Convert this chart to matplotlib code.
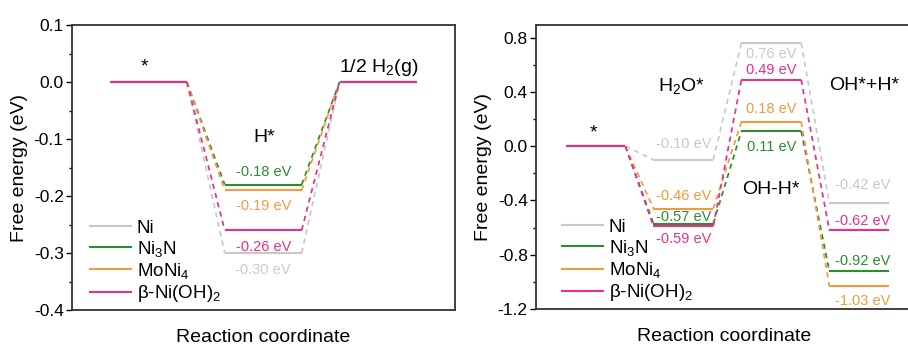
import matplotlib
matplotlib.use("Agg")
import matplotlib.pyplot as plt
from matplotlib.lines import Line2D

plt.rcParams.update({
    "font.family": ["Liberation Sans", "DejaVu Sans"],
    "mathtext.fontset": "custom",
    "mathtext.rm": "Liberation Sans",
    "mathtext.it": "Liberation Sans:italic",
    "mathtext.bf": "Liberation Sans:bold",
    "axes.unicode_minus": False,
})

# ---- data -------------------------------------------------------------
catalysts = ["Ni", "Ni$_3$N", "MoNi$_4$", "β-Ni(OH)$_2$"]
colors = ["#c8c8c8", "#2e8b2e", "#f29a3c", "#e8308a"]

# hydrogen evolution: * -> H* -> 1/2 H2(g)
her_steps = ["*", "H*", "1/2 H$_2$(g)"]
her_hstar = [-0.30, -0.18, -0.19, -0.26]

# water dissociation: * -> H2O* -> OH-H* -> OH*+H*
wd_steps = ["*", "H$_2$O*", "OH-H*", "OH*+H*"]
wd_h2o = [-0.10, -0.57, -0.46, -0.59]
wd_ts = [0.76, 0.11, 0.18, 0.49]
wd_ohh = [-0.42, -0.92, -1.03, -0.62]

her_ticks = [0.1, 0.0, -0.1, -0.2, -0.3, -0.4]
wd_ticks = [0.8, 0.4, 0.0, -0.4, -0.8, -1.2]

# vertical offsets (points) of value labels relative to their level line
her_label_dy = [-12, 9, -11, -12]
wd_label_dy = {
    1: [11, 5, 9, -9],      # H2O*
    2: [-8, -11, 9, 7],     # OH-H*
    3: [13, 7, -11, 7],     # OH*+H*
}

fig = plt.figure(figsize=(9.08, 3.45), dpi=100)
ax1 = fig.add_axes([72 / 908, 35 / 345, 383 / 908, 285 / 345])
ax2 = fig.add_axes([536 / 908, 36 / 345, 376 / 908, 284 / 345])

LEVEL_LW = 1.5
DASH_LW = 1.25
TICK_FS = 12.5
LABEL_FS = 14
STATE_FS = 14
VAL_FS = 10.5


def draw_profile(ax, energies, halfwidth, color):
    """Draw horizontal levels at x = 1..n joined by dashed connectors."""
    n = len(energies)
    for i, e in enumerate(energies):
        x = i + 1
        ax.plot([x - halfwidth, x + halfwidth], [e, e], color=color,
                lw=LEVEL_LW, solid_capstyle="butt")
        if i + 1 < n:
            ax.plot([x + halfwidth, x + 1 - halfwidth],
                    [e, energies[i + 1]], color=color, lw=DASH_LW,
                    linestyle=(0, (3, 2.5)))


def style_axes(ax, ylim, ticks, minor):
    ax.set_ylim(*ylim)
    ax.set_yticks(ticks)
    ax.set_yticklabels([f"{t:.1f}" for t in ticks], fontsize=TICK_FS)
    ax.set_yticks(minor, minor=True)
    ax.set_xticks([])
    ax.tick_params(axis="y", which="major", direction="out", length=4,
                   width=1.0, pad=2)
    ax.tick_params(axis="y", which="minor", direction="out", length=2,
                   width=1.0)
    for s in ax.spines.values():
        s.set_linewidth(1.3)
        s.set_color("#333333")
    ax.set_ylabel("Free energy (eV)", fontsize=LABEL_FS, labelpad=4)
    ax.set_xlabel("Reaction coordinate", fontsize=LABEL_FS, labelpad=14)


# ---- left panel: HER --------------------------------------------------
hw1 = 0.335
for i in range(len(catalysts)):
    draw_profile(ax1, [0.0, her_hstar[i], 0.0], hw1, colors[i])
    ax1.annotate(f"{her_hstar[i]:.2f} eV", xy=(2, her_hstar[i]),
                 xytext=(0, her_label_dy[i]), textcoords="offset points",
                 ha="center", va="center", fontsize=VAL_FS, color=colors[i])

ax1.set_xlim(1 - 0.665, 3 + 0.67)
style_axes(ax1, (-0.4, 0.1), her_ticks,
           [0.05, -0.05, -0.15, -0.25, -0.35])
ax1.text(0.97, 0.026, her_steps[0], ha="center", va="center", fontsize=STATE_FS)
ax1.text(2.01, -0.098, her_steps[1], ha="center", va="center", fontsize=STATE_FS)
ax1.text(3.01, 0.025, her_steps[2], ha="center", va="center", fontsize=STATE_FS)

# ---- right panel: water dissociation ----------------------------------
hw2 = 0.34
for i in range(len(catalysts)):
    prof = [0.0, wd_h2o[i], wd_ts[i], wd_ohh[i]]
    draw_profile(ax2, prof, hw2, colors[i])
    for step in (1, 2, 3):
        dx = 2.5 if step == 3 else 0
        ax2.annotate(f"{prof[step]:.2f} eV", xy=(step + 1, prof[step]),
                     xytext=(dx, wd_label_dy[step][i]),
                     textcoords="offset points", ha="center", va="center",
                     fontsize=VAL_FS, color=colors[i])

ax2.set_xlim(1 - 0.676, 4 + 0.6)
style_axes(ax2, (-1.2, 0.893), wd_ticks,
           [0.6, 0.2, -0.2, -0.6, -1.0])
ax2.text(0.98, 0.098, wd_steps[0], ha="center", va="center", fontsize=STATE_FS)
ax2.text(1.98, 0.444, wd_steps[1], ha="center", va="center", fontsize=STATE_FS)
ax2.text(3.0, -0.32, wd_steps[2], ha="center", va="center", fontsize=STATE_FS)
ax2.text(4.06, 0.45, wd_steps[3], ha="center", va="center", fontsize=STATE_FS)

# ---- legends ------------------------------------------------------------
handles = [Line2D([], [], color=c, lw=LEVEL_LW) for c in colors]
for ax, anchor in ((ax1, (18 / 383, 0.02)), (ax2, (26 / 376, 0.02))):
    ax.legend(handles, catalysts, loc="lower left", bbox_to_anchor=anchor,
              frameon=False, fontsize=13.5, handlelength=2.2,
              handletextpad=0.3, labelspacing=0.12, borderpad=0,
              borderaxespad=0)

fig.savefig("out.png", dpi=100)
